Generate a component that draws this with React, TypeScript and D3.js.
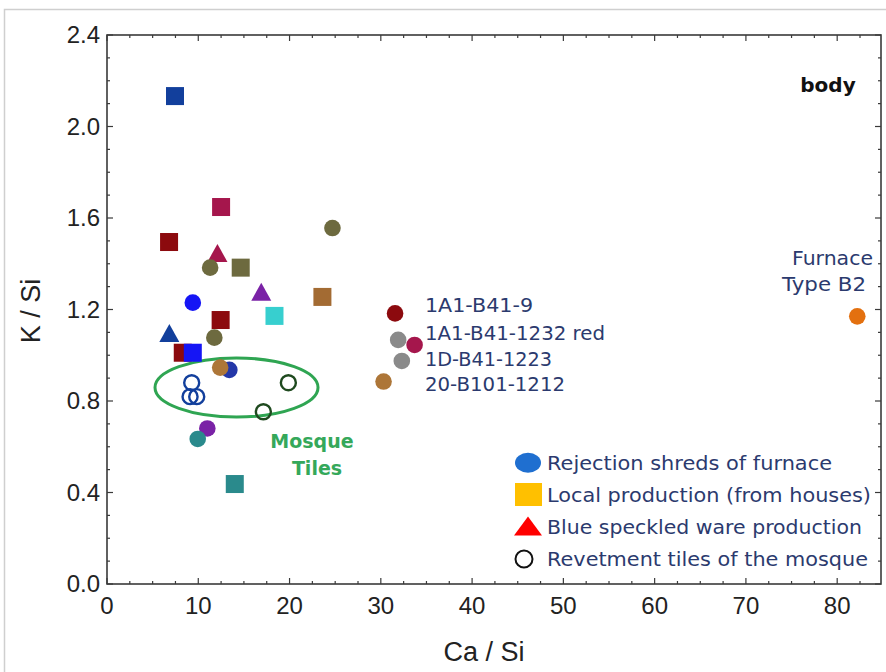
import React from "react";
import * as d3 from "d3";

// ---------- data ----------
const caSi = [7.45, 12.5, 6.8, 12.1, 11.3, 14.65, 24.7, 23.6, 16.9, 9.4, 18.35, 12.45, 11.76, 6.83, 8.3, 9.4, 13.4, 12.4, 9.28, 9.1, 9.83, 19.87, 17.13, 10.99, 9.94, 14.0, 31.56, 31.9, 33.7, 32.3, 30.3, 82.2];
const kSi = [2.133, 1.648, 1.495, 1.443, 1.383, 1.383, 1.556, 1.255, 1.273, 1.23, 1.172, 1.154, 1.077, 1.093, 1.011, 1.011, 0.936, 0.946, 0.88, 0.819, 0.819, 0.88, 0.753, 0.68, 0.634, 0.437, 1.183, 1.067, 1.045, 0.975, 0.885, 1.17];
const shapes = ["square", "square", "square", "triangle", "circle", "square", "circle", "square", "triangle", "circle", "square", "square", "circle", "triangle", "square", "square", "circle", "circle", "open", "open", "open", "open", "open", "circle", "circle", "square", "circle", "circle", "circle", "circle", "circle", "circle"];
const colorKeys = ["navy", "crimson", "darkred", "crimson", "olive", "olive", "olive", "brown", "purple", "blue", "cyan", "darkred", "olive", "navy", "darkred", "blue", "navyc", "brownc", "navy", "navy", "navy", "darkgreen", "darkgreen", "purple", "teal", "teal", "darkred", "gray", "crimson", "gray", "brownc", "orange"];

const sampleLabels = ["1A1-B41-9", "1A1-B41-1232 red", "1D-B41-1223", "20-B101-1212"];
const legendLabels = ["Rejection shreds of furnace", "Local production (from houses)", "Blue speckled ware production", "Revetment tiles of the mosque"];
const legendShapes = ["circle", "square", "triangle", "open"];
const legendColorKeys = ["legendBlue", "legendOrange", "legendRed", "black"];

const xTickValues = [0, 10, 20, 30, 40, 50, 60, 70, 80];
const yTickValues = [0, 0.4, 0.8, 1.2, 1.6, 2.0, 2.4];

const palette: Record<string, string> = {
  navy: "#123f9c",
  navyc: "#2437a8",
  crimson: "#a5164c",
  darkred: "#8c0a0e",
  olive: "#6d6a3f",
  brown: "#a36b33",
  brownc: "#ad7638",
  purple: "#7a22a6",
  blue: "#1515f5",
  cyan: "#37cfcf",
  teal: "#2a8a8c",
  gray: "#8a8a8a",
  orange: "#e3700f",
  darkgreen: "#1f4a1f",
  legendBlue: "#1f6fd0",
  legendOrange: "#ffc000",
  legendRed: "#ff0000",
  black: "#111111",
};

const W = 886;
const H = 672;
const left = 107, right = 881, top = 35, bottom = 584;

export default function App() {
  const x = d3.scaleLinear().domain([0, 84.8]).range([left, right]);
  const y = d3.scaleLinear().domain([0, 2.4]).range([bottom, top]);

  const xMinor = d3.range(0, 84.8, 2.5);
  const yMinor = d3.range(0, 2.41, 0.1);

  const navyText = "#2b3a6e";
  const font = "'DejaVu Sans', sans-serif";
  const axisFont = "'Liberation Sans', Arial, sans-serif";

  const marker = (shape: string, cx: number, cy: number, color: string, key: string | number, s = 1) => {
    if (shape === "square") {
      const h = 9 * s;
      return <rect key={key} x={cx - h} y={cy - h} width={2 * h} height={2 * h} fill={color} />;
    }
    if (shape === "triangle") {
      const h = 10 * s;
      const pts = [[cx, cy - h], [cx + h, cy + h * 0.8], [cx - h, cy + h * 0.8]];
      return <polygon key={key} points={pts.map((p) => p.join(",")).join(" ")} fill={color} />;
    }
    if (shape === "open") {
      return <circle key={key} cx={cx} cy={cy} r={7.5 * s} fill="none" stroke={color} strokeWidth={2.4} />;
    }
    return <circle key={key} cx={cx} cy={cy} r={8.3 * s} fill={color} />;
  };

  const order = d3.range(caSi.length);
  const drawOrder = [...order.filter((i) => i !== 17), 17];

  const ellipseCx = 14.19, ellipseCy = 0.859, ellipseRx = 8.93, ellipseRy = 0.129;
  const sampleY = [312, 340, 366, 391];
  const sampleLen = [108, 180, 127, 140];

  return (
    <svg width={W} height={H} style={{ position: "absolute", left: 0, top: 0, background: "#fff" }}>
      <rect x={0} y={0} width={W} height={H} fill="#fff" />
      <rect x={4.5} y={9.5} width={W + 20} height={H + 20} fill="none" stroke="#cfcfcf" strokeWidth={1.5} />

      <rect x={left} y={top} width={right - left} height={bottom - top} fill="none" stroke="#3a3a3a" strokeWidth={1.6} />

      {xMinor.map((v, i) => {
        const major = v % 10 === 0;
        const len = major ? 6 : 3;
        return (
          <g key={"xt" + i} stroke="#3a3a3a" strokeWidth={1.2}>
            <line x1={x(v)} x2={x(v)} y1={bottom} y2={bottom - len} />
            <line x1={x(v)} x2={x(v)} y1={top} y2={top + len} />
          </g>
        );
      })}
      {yMinor.map((v, i) => {
        const major = Math.abs(v * 10 - Math.round(v / 0.4) * 4) < 0.01;
        const len = major ? 6 : 3;
        return (
          <g key={"yt" + i} stroke="#3a3a3a" strokeWidth={1.2}>
            <line x1={left} x2={left + len} y1={y(v)} y2={y(v)} />
            <line x1={right} x2={right - len} y1={y(v)} y2={y(v)} />
          </g>
        );
      })}

      {xTickValues.map((v) => (
        <text key={"xl" + v} x={x(v)} y={614} textAnchor="middle" fontFamily={axisFont} fontSize={24} fill="#222">
          {v}
        </text>
      ))}
      {yTickValues.map((v) => (
        <text key={"yl" + v} x={100} y={y(v) + 8} textAnchor="end" fontFamily={axisFont} fontSize={24} fill="#222">
          {v.toFixed(1)}
        </text>
      ))}

      <text x={484} y={661} textAnchor="middle" fontFamily={axisFont} fontSize={27} fill="#222">Ca / Si</text>
      <text transform={`translate(40,311) rotate(-90)`} textAnchor="middle" fontFamily={axisFont} fontSize={27} fill="#222">K / Si</text>

      <ellipse
        cx={x(ellipseCx)}
        cy={y(ellipseCy)}
        rx={x(ellipseRx) - x(0)}
        ry={y(0) - y(ellipseRy)}
        fill="none"
        stroke="#2fa552"
        strokeWidth={3}
      />

      {drawOrder.map((i) => marker(shapes[i], x(caSi[i]), y(kSi[i]), palette[colorKeys[i]], "p" + i))}

      <text x={828} y={92} textAnchor="middle" fontFamily={font} fontWeight="bold" fontSize={20} fill="#111">body</text>
      <text x={792} y={265} fontFamily={font} fontSize={20} fill={navyText} textLength={81} lengthAdjust="spacingAndGlyphs">Furnace</text>
      <text x={782} y={291} fontFamily={font} fontSize={20} fill={navyText} textLength={84} lengthAdjust="spacingAndGlyphs">Type B2</text>
      {sampleLabels.map((s, i) => (
        <text key={"sl" + i} x={425} y={sampleY[i]} fontFamily={font} fontSize={20} fill={navyText} textLength={sampleLen[i]} lengthAdjust="spacingAndGlyphs">
          {s}
        </text>
      ))}
      <text x={312} y={448} textAnchor="middle" fontFamily={font} fontWeight="bold" fontSize={19} fill="#35a85a">Mosque</text>
      <text x={317} y={475} textAnchor="middle" fontFamily={font} fontWeight="bold" fontSize={19} fill="#35a85a">Tiles</text>

      {legendLabels.map((s, i) => {
        const cy = [462.7, 494.5, 526.5, 559][i];
        const sh = legendShapes[i];
        const col = palette[legendColorKeys[i]];
        let m: React.ReactNode;
        if (sh === "circle") m = <ellipse cx={528} cy={cy} rx={13} ry={10} fill={col} />;
        else if (sh === "square") m = <rect x={515} y={cy - 11.5} width={27} height={23} fill={col} />;
        else if (sh === "triangle") m = <polygon points={`${528},${cy - 10} ${542},${cy + 9} ${514},${cy + 9}`} fill={col} />;
        else m = <circle cx={524} cy={cy} r={8.5} fill="none" stroke={col} strokeWidth={2} />;
        const ends = [832, 871, 862, 868];
        return (
          <g key={"lg" + i}>
            {m}
            <text x={547} y={cy + 7} fontFamily={font} fontSize={19} fill={navyText} textLength={ends[i] - 547} lengthAdjust="spacingAndGlyphs">
              {s}
            </text>
          </g>
        );
      })}
    </svg>
  );
}
